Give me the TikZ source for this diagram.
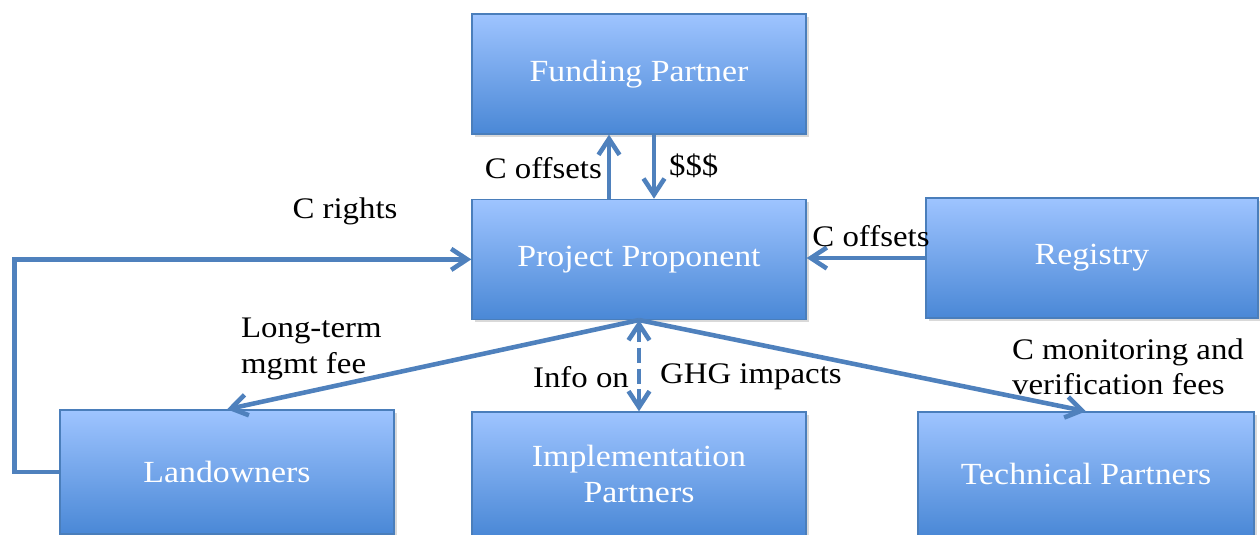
\documentclass[tikz,border=0pt]{standalone}
\usepackage{fontspec}
\setmainfont{Liberation Serif}[FakeStretch=1.1]
\usetikzlibrary{positioning, arrows.meta, shadows}
\definecolor{boxtop}{HTML}{9EC4FF}
\definecolor{boxmid}{HTML}{84B2F4}
\definecolor{boxbot}{HTML}{4A88D6}
\definecolor{boxline}{HTML}{4A7EBB}
\definecolor{flowblue}{HTML}{4F81BD}
\tikzset{
x=0.02cm, y=-0.02cm, % one unit is one pixel of the original
party/.style={rectangle, draw=boxline, line width=0.8pt, top color=boxtop, middle color=boxmid, bottom color=boxbot, minimum width=6.68cm, minimum height=2.4cm, text=white, align=center, font=\fontsize{17.5}{20.5}\selectfont, drop shadow={opacity=0.3, shadow xshift=0.06cm, shadow yshift=-0.06cm}}, % the boxes
flow/.style={draw=flowblue, line width=2.6pt, -{Straight Barb[length=3.2mm, width=4.2mm]}}, % the arrows
lbl/.style={text=black, align=left, font=\fontsize{17}{20}\selectfont, inner sep=1pt}, % text beside the arrows
}
\begin{document}
\begin{tikzpicture}
        \useasboundingbox (0,0) rectangle (1260,534);
        \node[party] (fund) at (639,74) {Funding Partner};
        \node[party, below=1.28cm of fund] (proj) {Project Proponent};
        \node[party, minimum width=6.64cm] (reg) at (1092,258) {Registry};
        \node[party, minimum height=2.48cm] (land) at (227,472) {Landowners};
        \node[party, minimum height=2.48cm] (impl) at (639,474) {Implementation\\Partners};
        \node[party, minimum width=6.72cm, minimum height=2.48cm] (tech) at (1086,474) {Technical Partners};

        \draw[flow] ([xshift=-0.6cm]proj.north) -- ([xshift=-0.6cm]fund.south);
        \draw[flow] ([xshift=0.3cm]fund.south) -- ([xshift=0.3cm]proj.north);
        \draw[flow] (land.west) -- ++(-0.9cm,0) |- (proj.west);
        \draw[flow] (reg.west) -- (reg.west -| proj.east);
        \draw[flow] (proj.south) -- (land.north);
        \draw[flow] (proj.south) -- (tech.north);
        \draw[flow, dash pattern=on 0.3cm off 0.12cm, {Straight Barb[length=3.2mm, width=4.2mm]}-{Straight Barb[length=3.2mm, width=4.2mm]}] (proj.south) -- (impl.north);

        \node[lbl, anchor=east] (coffup) at (604,168) {C offsets};
        \node[lbl, anchor=west] (cash) at (667,166) {\$\$\$};
        \node[lbl] (crights) at (345,211) {C rights};
        \node[lbl] (coffreg) at (871,236) {C offsets};
        \node[lbl, anchor=west] (fee) at (239,349) {Long-term\\mgmt fee};
        \node[lbl, anchor=east] (info) at (631,377) {Info on};
        \node[lbl, anchor=west] (ghg) at (658,377) {GHG impacts};
        \node[lbl, anchor=west] (verif) at (1010,367) {C monitoring and\\verification fees};
      \end{tikzpicture}
\end{document}
